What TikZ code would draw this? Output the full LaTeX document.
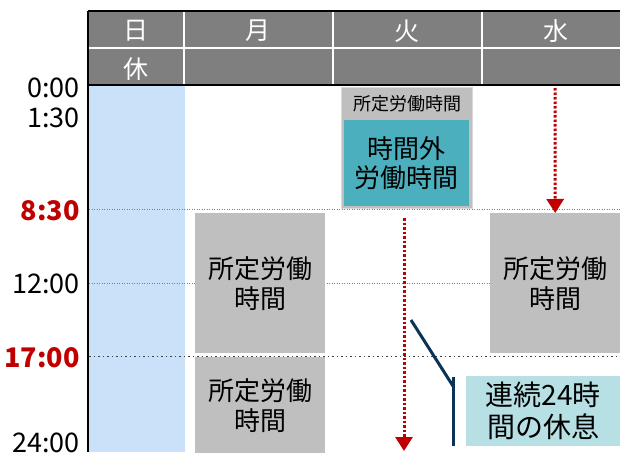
\documentclass[tikz,border=0pt]{standalone}
\usepackage{fontspec}
\setmainfont{Noto Sans CJK JP}
\usetikzlibrary{arrows.meta}
\definecolor{hdrgray}{HTML}{7F7F7F}
\definecolor{sunblue}{HTML}{C9E1F9}
\definecolor{boxgray}{HTML}{BFBFBF}
\definecolor{tealbox}{HTML}{4BAFBD}
\definecolor{restbox}{HTML}{B7E0E5}
\definecolor{redtime}{HTML}{C00000}
\definecolor{navyline}{HTML}{0B3358}
\begin{document}
\begin{tikzpicture}[x=1pt,y=-1pt,
  hdrtext/.style={text=white, font=\fontsize{25}{28}\selectfont, inner sep=0pt},
  timelab/.style={anchor=east, inner sep=0pt, font=\fontsize{27}{30}\selectfont},
  redtimelab/.style={timelab, text=redtime, font=\fontsize{27}{30}\selectfont\bfseries},
  workbox/.style={fill=boxgray, inner sep=0pt, anchor=north west, align=center, font=\fontsize{26}{30}\selectfont},
  gridline/.style={hdrgray, line width=0.8pt, dash pattern=on 1pt off 1.5pt},
  gridlinedark/.style={black!75, line width=1.2pt, dash pattern=on 1.5pt off 3pt},
  redarrow/.style={redtime, line width=3pt, dash pattern=on 2.5pt off 2pt, -{Triangle[width=17pt,length=14pt]}},
  navy/.style={navyline, line width=3pt}
]
\useasboundingbox (0,0) rectangle (620,452);
% Sunday column
\fill[sunblue] (88,85) rectangle (185,452);
% header
\fill[hdrgray] (88,11) rectangle (620,85);
\draw[white, line width=1.2pt] (88,48) -- (620,48);
\foreach \xx in {184,333,482} \draw[white, line width=1.2pt] (\xx,11) -- (\xx,85);
\draw[black, line width=1.3pt] (88,11) -- (620,11);
\draw[black, line width=1.3pt] (88,85) -- (620,85);
\draw[black, line width=1.3pt] (88,11) -- (88,452);
\node[hdrtext] (hsun) at (136,31) {日};
\node[hdrtext] (hmon) at (258,31) {月};
\node[hdrtext] (htue) at (407,31) {火};
\node[hdrtext] (hwed) at (556,31) {水};
\node[hdrtext] (hrest) at (136,69) {休};
% time labels
\node[timelab] (t0) at (80,88) {0:00};
\node[timelab] (t1) at (80,118) {1:30};
\node[redtimelab] (t2) at (80,211) {8:30};
\node[timelab] (t3) at (80,284) {12:00};
\node[redtimelab] (t4) at (80,358) {17:00};
\node[timelab] (t5) at (80,443) {24:00};
% grid lines
\draw[gridline] (89,209.5) -- (620,209.5);
\draw[gridline] (89,283) -- (620,283);
\draw[gridlinedark] (89,356.5) -- (620,356.5);
% work boxes
\node[workbox, minimum width=130pt, minimum height=140pt] (mon1) at (195,213) {所定労働\\時間};
\node[workbox, minimum width=130pt, minimum height=96pt] (mon2) at (195,357) {所定労働\\時間};
\node[workbox, minimum width=130pt, minimum height=140pt] (wed) at (490,213) {所定労働\\時間};
% tuesday box
\node[fill=boxgray, draw=black!15, line width=0.8pt, anchor=north west, minimum width=131pt, minimum height=121pt, inner sep=0pt] (tue) at (341,87) {};
\node[inner sep=0pt, font=\fontsize{18}{20}\selectfont] (tuelab) at (407,104) {所定労働時間};
\node[fill=tealbox, anchor=north west, minimum width=125pt, minimum height=86pt, inner sep=0pt, align=center, font=\fontsize{26}{29}\selectfont] (over) at (344,120) {時間外\\労働時間};
% rest box
\node[fill=restbox, anchor=north west, minimum width=154pt, minimum height=70pt, inner sep=0pt, align=center, font=\fontsize{28}{32}\selectfont] (rest) at (466,376) {連続24時\\間の休息};
% arrows
\coordinate (wtop) at (555,88);
\draw[redarrow] (wtop) -- (wed.north);
\coordinate (ttop) at (404,218);
\coordinate (tbot) at (404,451);
\draw[redarrow] (ttop) -- (tbot);
% bracket
\coordinate (bra) at (411,320);
\coordinate (brb) at (453,386);
\coordinate (brtop) at (453,377);
\coordinate (brbot) at (453,446);
\draw[navy] (bra) -- (brb);
\draw[navy] (brtop) -- (brbot);
\end{tikzpicture}
\end{document}
